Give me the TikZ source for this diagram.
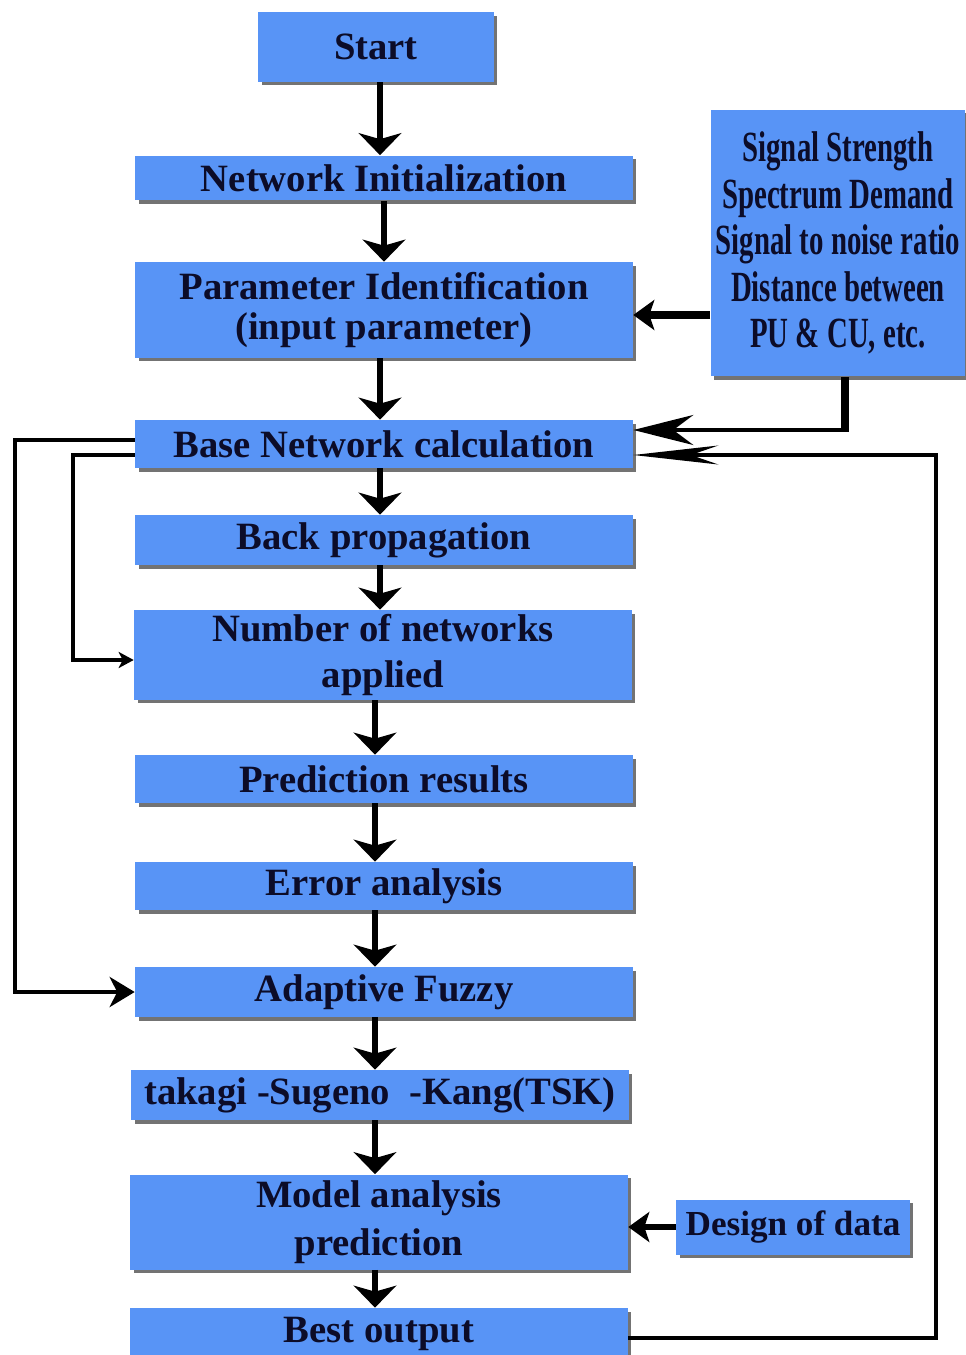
\documentclass[tikz,border=0pt]{standalone}
\usepackage{fontspec}
\setmainfont{Liberation Serif}
\newfontfamily\narrowserif[FakeStretch=0.67]{Liberation Serif}
\usetikzlibrary{arrows.meta,shadows}
\definecolor{flowblue}{RGB}{88,148,246}
\definecolor{flowink}{RGB}{12,12,40}
\tikzset{
  box/.style={rectangle, fill=flowblue, text=flowink, inner sep=2pt, align=center,
    font=\bfseries\fontsize{22}{25}\selectfont, minimum width=9.96cm,
    drop shadow={shadow xshift=0.07cm, shadow yshift=-0.07cm, fill=black, opacity=0.55}},
  flow/.style={line width=3.4pt, -{Stealth[length=0.44cm,width=0.85cm,inset=0.12cm]}},
  sidearrow/.style={line width=4pt, -{Stealth[length=0.42cm,width=0.6cm,inset=0.1cm]}},
  barb/.style={line width=2.4pt, -{Stealth[length=1.2cm,width=0.6cm,inset=0.4cm]}},
  longbarb/.style={line width=2pt, -{Stealth[length=1.7cm,width=0.38cm,inset=0.55cm]}},
  outerloop/.style={line width=2.8pt, -{Stealth[length=0.5cm,width=0.6cm,inset=0.15cm]}},
  innerloop/.style={line width=1.8pt, -{Stealth[length=0.3cm,width=0.32cm,inset=0.08cm]}}
}
\begin{document}
\begin{tikzpicture}[x=0.02cm,y=-0.02cm]
  \fill[white] (0,0) rectangle (966,1355);
  \useasboundingbox (0,0) rectangle (966,1355);

  % main column
  \node[box, minimum width=4.72cm, minimum height=1.4cm] (start) at (376,47) {Start};
  \node[box, minimum height=0.9cm] (netinit) at (384,178) {Network Initialization};
  \node[box, minimum height=1.92cm, font=\bfseries\fontsize{22}{23}\selectfont] (param) at (384,310) {Parameter Identification\\(input parameter)};
  \node[box, minimum height=0.96cm] (base) at (384,444) {Base Network calculation};
  \node[box, minimum height=1.0cm] (backprop) at (384,540) {Back propagation};
  \node[box, minimum height=1.8cm, font=\bfseries\fontsize{22}{26}\selectfont] (number) at (383,655) {Number of networks\\applied};
  \node[box, minimum height=0.96cm] (predict) at (384,779) {Prediction results};
  \node[box, minimum height=0.96cm] (error) at (384,886) {Error analysis};
  \node[box, minimum height=1.0cm] (adaptive) at (384,992) {Adaptive Fuzzy};
  \node[box, minimum height=1.0cm] (tsk) at (380,1095) {takagi -Sugeno\ \ -Kang(TSK)};
  \node[box, minimum height=1.9cm, font=\bfseries\fontsize{22}{27}\selectfont] (model) at (379,1222) {Model analysis\\prediction};
  \node[box, minimum height=1.04cm] (best) at (379,1334) {Best output};

  % side inputs
  \node[box, minimum width=5.1cm, minimum height=5.34cm, font=\narrowserif\bfseries\fontsize{24.5}{26.5}\selectfont] (signals) at (838,243)
    {Signal Strength\\Spectrum Demand\\Signal to noise ratio\\Distance between\\PU \& CU, etc.};
  \node[box, minimum width=4.68cm, minimum height=1.1cm, font=\bfseries\fontsize{20}{24}\selectfont] (design) at (793,1227) {Design of data};

  \coordinate (sidecorner) at (845,430);
  \coordinate (loopright) at (936,455);
  \coordinate (outerleft) at (15,440);
  \coordinate (innerleft) at (73,455);

  % downward flow
  \draw[flow] ([xshift=0.08cm]start.south) -- ([xshift=0.08cm]start.south |- netinit.north);
  \draw[flow] (netinit.south) -- (netinit.south |- param.north);
  \draw[flow] ([xshift=-0.08cm]param.south) -- ([xshift=-0.08cm]param.south |- base.north);
  \draw[flow] ([xshift=-0.08cm]base.south) -- ([xshift=-0.08cm]base.south |- backprop.north);
  \draw[flow] ([xshift=-0.08cm]backprop.south) -- ([xshift=-0.08cm]backprop.south |- number.north);
  \draw[flow] ([xshift=-0.16cm]number.south) -- ([xshift=-0.16cm]number.south |- predict.north);
  \draw[flow] ([xshift=-0.18cm]predict.south) -- ([xshift=-0.18cm]predict.south |- error.north);
  \draw[flow] ([xshift=-0.18cm]error.south) -- ([xshift=-0.18cm]error.south |- adaptive.north);
  \draw[flow] ([xshift=-0.18cm]adaptive.south) -- ([xshift=-0.18cm]adaptive.south |- tsk.north);
  \draw[flow] ([xshift=-0.1cm]tsk.south) -- ([xshift=-0.1cm]tsk.south |- model.north);
  \draw[flow] ([xshift=-0.08cm]model.south) -- ([xshift=-0.08cm]model.south |- best.north);

  % inputs
  \draw[sidearrow] ([yshift=-0.1cm]signals.west |- param.east) -- ([yshift=-0.1cm]param.east);
  \draw[line width=4.5pt] (signals.south -| sidecorner) -- ([yshift=-0.04cm]sidecorner);
  \draw[barb] (sidecorner) -- (sidecorner -| base.east);
  \draw[sidearrow, line width=3pt] (design.west) -- (design.west -| model.east);

  % feedback loops
  \draw[longbarb] ([yshift=-0.08cm]best.east) -| (loopright) -- (loopright -| base.east);
  \draw[outerloop] (base.west |- outerleft) -- (outerleft) |- (adaptive.west);
  \draw[innerloop] (base.west |- innerleft) -- (innerleft) |- ([yshift=-0.1cm]number.west);
\end{tikzpicture}
\end{document}
